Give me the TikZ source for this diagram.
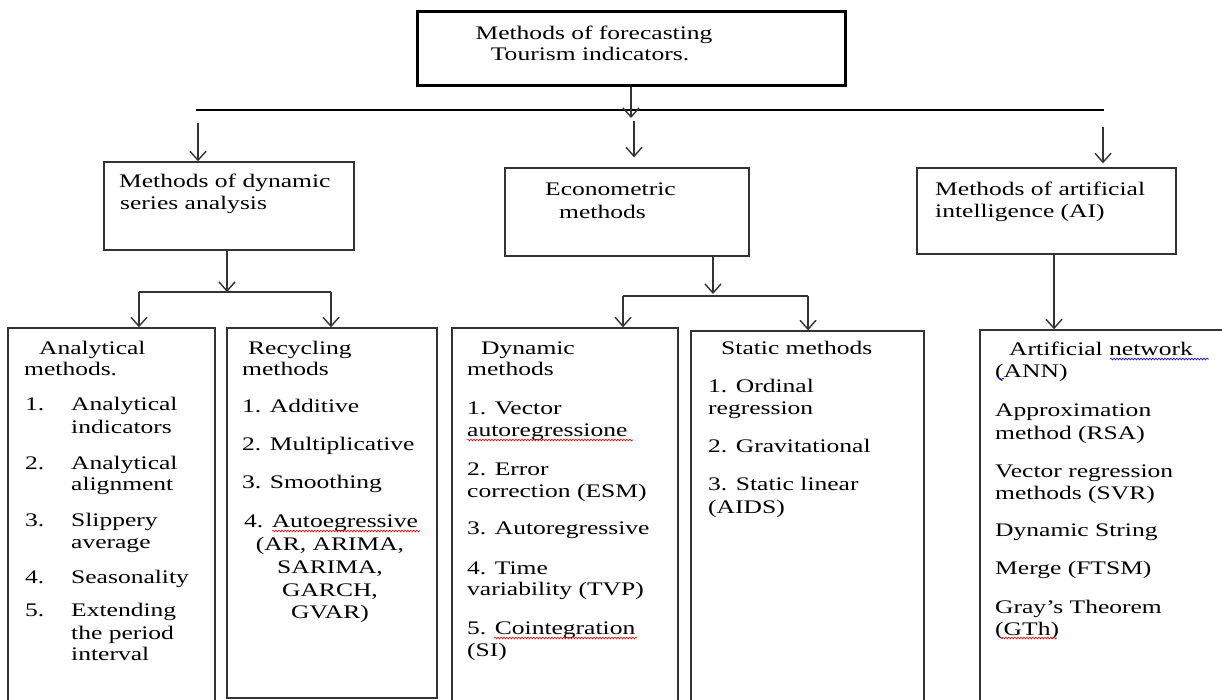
\documentclass[tikz,border=0pt]{standalone}
\usepackage{fontspec}
\setmainfont[FakeStretch=1.33]{Liberation Serif}
\usetikzlibrary{arrows.meta,decorations.pathmorphing}
\newcommand\tf{\fontsize{19.2pt}{22pt}\selectfont}
\definecolor{ln}{gray}{0.2}
\tikzset{
  x=1pt,y=-1pt,
  box/.style={draw=ln,line width=1.4pt,inner sep=0pt},
  topbox/.style={draw=black,line width=3pt,inner sep=0pt},
  t/.style={anchor=base west,inner sep=0pt,font=\tf},
  tc/.style={anchor=base,inner sep=0pt,font=\tf},
  arr/.style={draw=ln,line width=1.4pt,-{Straight Barb[length=9pt,width=16pt]}},
  lnk/.style={draw=ln,line width=1.4pt},
  bus/.style={draw=black,line width=2.6pt},
  spellr/.style={draw=red,line width=0.6pt,decorate,decoration={snake,amplitude=0.9pt,segment length=3pt}},
  spellb/.style={draw=blue,line width=0.6pt,decorate,decoration={snake,amplitude=0.9pt,segment length=3pt}},
}
\begin{document}
\begin{tikzpicture}
\useasboundingbox (0,0) rectangle (1222,699);
\fill[white] (0,0) rectangle (1222,699);
\clip (0,0) rectangle (1222,699);

% boxes
\node[topbox,minimum width=428pt,minimum height=74pt] (top) at (631,48) {};
\node[box,minimum width=250pt,minimum height=88pt] (dsa) at (229,206) {};
\node[box,minimum width=244pt,minimum height=88pt] (eco) at (627,212) {};
\node[box,minimum width=259pt,minimum height=86pt] (ai) at (1046.5,211) {};
\node[box,minimum width=207pt,minimum height=392pt] (ana) at (111.5,524) {};
\node[box,minimum width=210pt,minimum height=370pt] (rec) at (332,513) {};
\node[box,minimum width=226pt,minimum height=392pt] (dyn) at (565,524) {};
\node[box,minimum width=233pt,minimum height=389pt] (sta) at (807.5,525.5) {};
\node[box,minimum width=260pt,minimum height=390pt] (ann) at (1110,525) {};

% top level connectors
\coordinate (busL) at (196,110);
\coordinate (busR) at (1104,110);
\draw[bus] (busL) -- (busR);
\coordinate (busC) at (631,118);
\draw[arr] (top.south) -- (busC);
\coordinate (s1) at (198,123);
\coordinate (s2) at (634,121);
\coordinate (s3) at (1103,127);
\draw[arr] (s1) -- (s1 |- dsa.north);
\draw[arr,shorten >=10pt] (s2) -- (s2 |- eco.north);
\draw[arr,shorten >=4pt] (s3) -- (s3 |- ai.north);

% under dynamic series analysis
\coordinate (j1) at (227,292);
\coordinate (j1l) at (139,292);
\coordinate (j1r) at (331,292);
\draw[arr] (dsa.south -| j1) -- (j1);
\draw[lnk] (j1l) -- (j1r);
\draw[arr] (j1l) -- (j1l |- ana.north);
\draw[arr] (j1r) -- (j1r |- rec.north);

% under econometric
\coordinate (j2) at (713,294);
\coordinate (j2l) at (623,296);
\coordinate (j2r) at (808,296);
\draw[arr] (eco.south -| j2) -- (j2);
\draw[lnk] (j2l) -- (j2r);
\draw[arr] (j2l) -- (j2l |- dyn.north);
\draw[arr] (j2r) -- (j2r |- sta.north);

% under AI
\coordinate (c3) at (1054,254);
\draw[arr] (c3) -- (c3 |- ann.north);

% texts: top
\node[tc] (tt1) at (594,39) {Methods of forecasting};
\node[tc] (tt2) at (590,60) {Tourism indicators.};

\node[t] (d1) at (119,187) {Methods of dynamic};
\node[t] (d2) at (120,209) {series analysis};

\node[t] (e1) at (545,195) {Econometric};
\node[t] (e2) at (559,218) {methods};

\node[t] (a1) at (935,195) {Methods of artificial};
\node[t] (a2) at (935,217) {intelligence (AI)};

% analytical
\node[t] (an0) at (39,354) {Analytical};
\node[t] (an0b) at (24,375) {methods.};
\node[t] (n1) at (25,410) {1.};
\node[t] (an1) at (71,410) {Analytical};
\node[t] (an1b) at (71,433) {indicators};
\node[t] (n2) at (25,469) {2.};
\node[t] (an2) at (71,469) {Analytical};
\node[t] (an2b) at (71,490) {alignment};
\node[t] (n3) at (25,526) {3.};
\node[t] (an3) at (71,526) {Slippery};
\node[t] (an3b) at (71,548) {average};
\node[t] (n4) at (25,583) {4.};
\node[t] (an4) at (71,583) {Seasonality};
\node[t] (n5) at (25,616) {5.};
\node[t] (an5) at (71,616) {Extending};
\node[t] (an5b) at (71,639) {the period};
\node[t] (an5c) at (71,660) {interval};

% recycling
\node[t] (r0) at (248,354) {Recycling};
\node[t] (r0b) at (242,375) {methods};
\node[t] (r1) at (242,412) {1. Additive};
\node[t] (r2) at (242,450) {2. Multiplicative};
\node[t] (r3) at (242,488) {3. Smoothing};
\node[tc] (r4) at (331,527) {4. Autoegressive};
\node[tc] (r4b) at (330,550) {(AR, ARIMA,};
\node[tc] (r4c) at (330,573) {SARIMA,};
\node[tc] (r4d) at (330,596) {GARCH,};
\node[tc] (r4e) at (330,618) {GVAR)};

% dynamic
\node[t] (y0) at (481,354) {Dynamic};
\node[t] (y0b) at (467,375) {methods};
\node[t] (y1) at (467,414) {1. Vector};
\node[t] (y1b) at (467,436) {autoregressione};
\node[t] (y2) at (467,475) {2. Error};
\node[t] (y2b) at (467,497) {correction (ESM)};
\node[t] (y3) at (467,534) {3. Autoregressive};
\node[t] (y4) at (467,574) {4. Time};
\node[t] (y4b) at (467,595) {variability (TVP)};
\node[t] (y5) at (467,634) {5. Cointegration};
\node[t] (y5b) at (467,656) {(SI)};

% static
\node[t] (st0) at (721,354) {Static methods};
\node[t] (st1) at (708,392) {1. Ordinal};
\node[t] (st1b) at (708,414) {regression};
\node[t] (st2) at (708,452) {2. Gravitational};
\node[t] (st3) at (708,490) {3. Static linear};
\node[t] (st3b) at (708,513) {(AIDS)};

% artificial network
\node[t] (k0) at (1009,355) {Artificial network};
\node[t] (k0b) at (995,377) {(ANN)};
\node[t] (k1) at (995,416) {Approximation};
\node[t] (k1b) at (995,439) {method (RSA)};
\node[t] (k2) at (995,477) {Vector regression};
\node[t] (k2b) at (995,499) {methods (SVR)};
\node[t] (k3) at (995,536) {Dynamic String};
\node[t] (k4) at (995,574) {Merge (FTSM)};
\node[t] (k5) at (995,613) {Gray’s Theorem};
\node[t] (k5b) at (995,635) {(GTh)};

% spell-check underlines
\draw[spellr] (272,531) -- (420,531);
\draw[spellr] (467,440) -- (633,440);
\draw[spellr] (494,638) -- (637,638);
\draw[spellr] (1002,638) -- (1057,638);
\draw[spellb] (1110,359) -- (1209,359);
\draw[spellb] (999,379) -- (1004,379);
\end{tikzpicture}
\end{document}
